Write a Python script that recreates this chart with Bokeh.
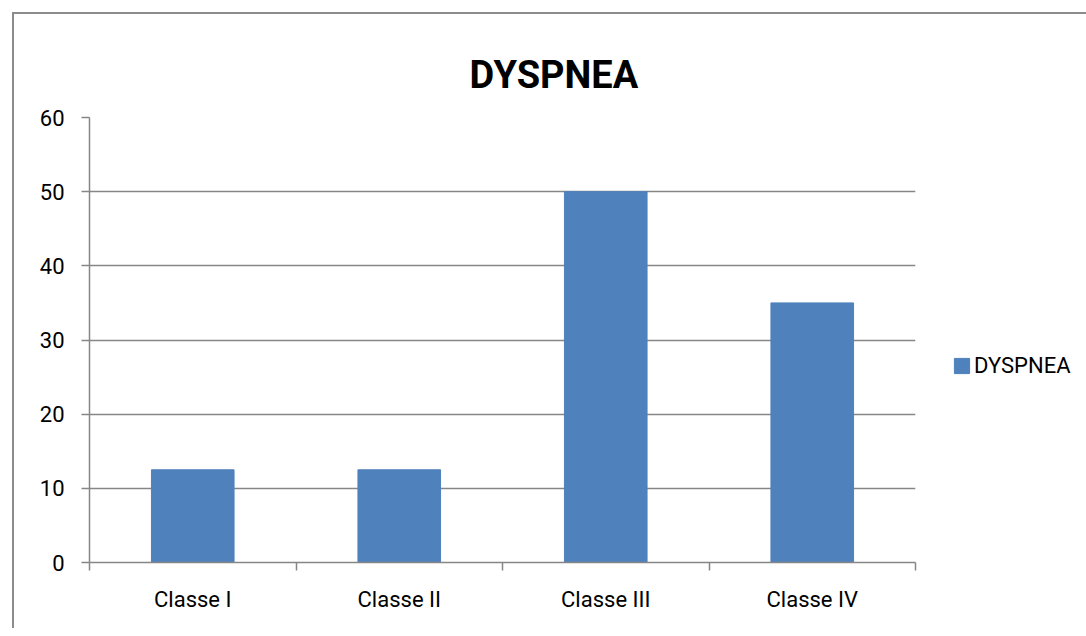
from bokeh.plotting import figure
from bokeh.models import (FactorRange, Range1d, LinearAxis, FixedTicker,
                          Legend, LegendItem, ColumnDataSource)
from bokeh.embed import file_html
from bokeh.resources import INLINE

# ---- data ----
categories = ["Classe I", "Classe II", "Classe III", "Classe IV"]
values = [12.5, 12.5, 50, 35]
series_name = "DYSPNEA"
title_text = "DYSPNEA"
y_ticks = [0, 10, 20, 30, 40, 50, 60]

FONT = "Roboto"
GRAY = "#868686"
BAR = "#4F81BD"

source = ColumnDataSource(data=dict(cat=categories, val=values))

p = figure(
    x_range=FactorRange(factors=categories, range_padding=0),
    y_range=Range1d(0, 60),
    frame_width=826, frame_height=445,
    output_backend="svg", toolbar_location=None,
    x_axis_location=None,
    min_border_left=75, min_border_right=171, min_border_top=103, min_border_bottom=68,
)
p.margin = (14, 0, 0, 14)
# chart-area border on the left and top edges (as in the reference crop)
p.styles = {"box-shadow": "-2px -2px 0 0 #8c8c8c"}
p.outline_line_color = None
p.background_fill_color = "white"
p.border_fill_color = "white"

# title
p.title.text = title_text
p.title.align = "left"
p.title.offset = 380
p.title.text_font = FONT
p.title.text_font_size = "38px"
p.title.text_font_style = "bold"
p.title.text_color = "black"
p.title.standoff = 42

# invisible spacer between the title and the plot area
spacer = LinearAxis(ticker=FixedTicker(ticks=[]))
spacer.axis_line_color = None
spacer.major_tick_line_color = "white"
spacer.minor_tick_line_color = None
spacer.major_tick_out = 14
spacer.major_tick_in = 0
spacer.minor_tick_out = 0
spacer.major_label_standoff = 0
p.add_layout(spacer, "above")

# y axis
ya = p.yaxis[0]
ya.ticker = FixedTicker(ticks=y_ticks)
ya.axis_line_color = GRAY
ya.axis_line_width = 1.5
ya.major_tick_line_color = GRAY
ya.major_tick_line_width = 1.5
ya.major_tick_out = 8
ya.major_tick_in = 0
ya.minor_tick_line_color = None
ya.major_label_standoff = 17
ya.major_label_text_font = FONT
ya.major_label_text_font_size = "22px"
ya.major_label_text_color = "black"

p.ygrid.ticker = FixedTicker(ticks=y_ticks)
p.ygrid.grid_line_color = GRAY
p.ygrid.grid_line_width = 1.5
p.xgrid.visible = False

# x axis: labels at category centres, tick marks at category boundaries
n = len(categories)
centres = [i + 0.5 for i in range(n)]
edges = list(range(n + 1))
xa = LinearAxis(ticker=FixedTicker(ticks=centres, minor_ticks=edges))
xa.major_label_overrides = {c: name for c, name in zip(centres, categories)}
xa.axis_line_color = GRAY
xa.axis_line_width = 1.5
xa.major_tick_line_color = None
xa.major_tick_out = 8
xa.major_tick_in = 0
xa.minor_tick_line_color = GRAY
xa.minor_tick_line_width = 1.5
xa.minor_tick_out = 8
xa.minor_tick_in = 0
xa.major_label_standoff = 16
xa.major_label_text_font = FONT
xa.major_label_text_font_size = "22px"
xa.major_label_text_color = "black"
p.add_layout(xa, "below")

# bars
r = p.vbar(x="cat", top="val", width=0.4, source=source,
           fill_color=BAR, line_color=BAR)

# legend (right panel)
legend = Legend(items=[LegendItem(label=series_name, renderers=[r])],
                location=(37, 184), orientation="vertical",
                glyph_width=19, glyph_height=19, label_standoff=3,
                padding=0, margin=0, spacing=0,
                border_line_color=None, background_fill_alpha=0,
                label_text_font=FONT, label_text_font_size="22px",
                label_text_color="black")
p.add_layout(legend, "right")

open("out.html", "w").write(file_html(p, INLINE))
